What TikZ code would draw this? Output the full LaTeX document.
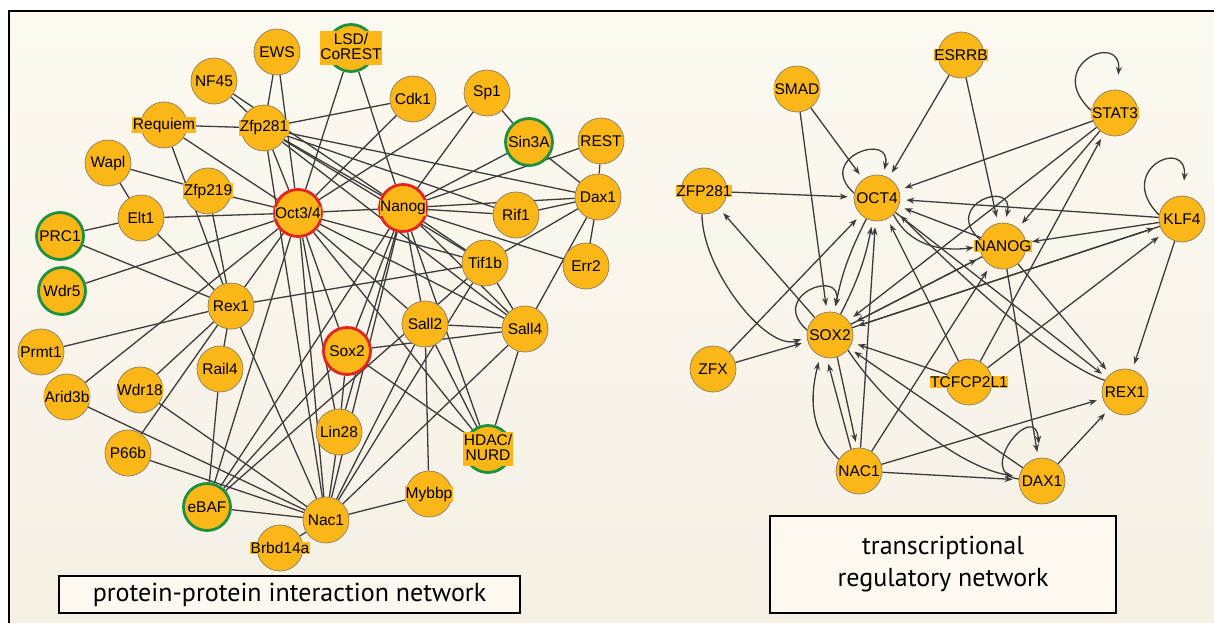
\documentclass[tikz,border=0pt]{standalone}
\usepackage{fontspec}
\setmainfont{Liberation Sans}
\newfontfamily\boxfont{PT Sans}
\usetikzlibrary{arrows.meta,calc}
\pgfdeclarelayer{bgl}\pgfdeclarelayer{edgel}
\pgfsetlayers{bgl,edgel,main}
\definecolor{nfill}{RGB}{251,182,23}
\definecolor{nbord}{RGB}{140,125,100}
\definecolor{redring}{RGB}{228,35,35}
\definecolor{greenring}{RGB}{30,145,65}
\definecolor{edgec}{RGB}{60,60,60}
\definecolor{creamtop}{RGB}{252,249,240}
\definecolor{creambot}{RGB}{245,240,228}
\definecolor{boxfill}{RGB}{253,249,240}
\newcommand{\nlab}[1]{\makebox[0pt]{\setlength{\fboxsep}{0.6pt}\colorbox{nfill}{#1}}}
\newcommand{\nlabb}[2]{\makebox[0pt]{\setlength{\fboxsep}{0.6pt}\colorbox{nfill}{\begin{tabular}{@{}c@{}}#1\\[-3pt]#2\end{tabular}}}}
\tikzset{
  pn/.style={circle, draw=nbord, line width=0.7pt, fill=nfill, minimum size=46pt, inner sep=0pt, font=\fontsize{15.5}{18}\selectfont},
  rn/.style={pn, draw=redring, line width=2.8pt, minimum size=47pt},
  gn/.style={pn, draw=greenring, line width=2.8pt, minimum size=47pt},
  ledge/.style={draw=edgec, line width=1.3pt},
  redge/.style={ledge, -{Stealth[length=8pt,width=6pt]}, shorten >=6pt},
  lbox/.style={draw=black, line width=2pt, fill=boxfill, font=\boxfont\fontsize{26}{32}\selectfont, inner sep=0pt}
}
\begin{document}
\begin{tikzpicture}[x=1pt,y=-1pt]
\useasboundingbox (0,0) rectangle (1214,623);
\begin{pgfonlayer}{bgl}
\fill[white] (0,0) rectangle (1214,623);
\shade[top color=creamtop, bottom color=creambot] (9,11) rectangle (1214,623);
\draw[black, line width=2.6pt] (9,630) -- (9,11) -- (1220,11);
\end{pgfonlayer}

% ---------- left network ----------
\node[pn] (ews) at (277,52) {\nlab{EWS}};
\node[pn] (nf45) at (214,81) {\nlab{NF45}};
\node[gn] (lsd) at (351,48) {\nlabb{LSD/}{CoREST}};
\node[pn] (cdk1) at (413,99) {\nlab{Cdk1}};
\node[pn] (sp1) at (487,93) {\nlab{Sp1}};
\node[pn] (req) at (164,125) {\nlab{Requiem}};
\node[pn] (zfpa) at (264,128) {\nlab{Zfp281}};
\node[gn] (sin3a) at (529,142) {\nlab{Sin3A}};
\node[pn] (rest) at (601,141) {\nlab{REST}};
\node[pn] (wapl) at (108,163) {\nlab{Wapl}};
\node[pn] (zfpb) at (208,191) {\nlab{Zfp219}};
\node[pn] (dax1) at (598,197) {\nlab{Dax1}};
\node[pn] (elt1) at (141,218) {\nlab{Elt1}};
\node[rn] (oct) at (298,213) {\nlab{Oct3/4}};
\node[rn] (nanog) at (403,208) {\nlab{Nanog}};
\node[pn] (rif1) at (516,215) {\nlab{Rif1}};
\node[gn] (prc1) at (60,236) {\nlab{PRC1}};
\node[pn] (tif1b) at (485,263) {\nlab{Tif1b}};
\node[pn] (err2) at (586,266) {\nlab{Err2}};
\node[gn] (wdr5) at (62,291) {\nlab{Wdr5}};
\node[pn] (rex1) at (231,306) {\nlab{Rex1}};
\node[pn] (sall2) at (425,324) {\nlab{Sall2}};
\node[pn] (sall4) at (525,329) {\nlab{Sall4}};
\node[rn] (sox2) at (347,351) {\nlab{Sox2}};
\node[pn] (prmt1) at (41,352) {\nlab{Prmt1}};
\node[pn] (rail4) at (220,369) {\nlab{Rail4}};
\node[pn] (wdr18) at (140,390) {\nlab{Wdr18}};
\node[pn] (arid3b) at (67,397) {\nlab{Arid3b}};
\node[pn] (lin28) at (339,432) {\nlab{Lin28}};
\node[gn] (hdac) at (488,449) {\nlabb{HDAC/}{NURD}};
\node[pn] (p66b) at (128,453) {\nlab{P66b}};
\node[pn] (mybbp) at (429,494) {\nlab{Mybbp}};
\node[gn] (ebaf) at (207,507) {\nlab{eBAF}};
\node[pn] (nac1) at (326,520) {\nlab{Nac1}};
\node[pn] (brbd) at (280,548) {\nlab{Brbd14a}};

\begin{pgfonlayer}{edgel}
\foreach \a/\b in {ews/zfpa, ews/oct, nf45/zfpa, nf45/nanog, lsd/oct, lsd/nanog,
  cdk1/zfpa, cdk1/oct, sp1/oct, sp1/nanog, sp1/sin3a, req/zfpa, req/oct, req/rex1,
  zfpa/oct, zfpa/nanog, zfpa/rif1, zfpa/dax1, zfpa/tif1b, zfpa/nac1, zfpa/sall4,
  wapl/zfpb, zfpb/oct, wapl/elt1, zfpb/rex1, elt1/prc1, elt1/oct, elt1/rex1,
  prc1/rex1, wdr5/oct, rex1/oct, rex1/tif1b, rex1/prmt1, rex1/wdr18, rex1/p66b,
  rex1/rail4, rex1/nac1, arid3b/oct, arid3b/nac1, wdr18/nac1, p66b/nac1,
  rail4/ebaf, ebaf/oct, ebaf/nanog, ebaf/sox2, ebaf/nac1, ebaf/tif1b, brbd/nac1,
  oct/nanog, oct/sox2, oct/nac1, oct/lin28, oct/sall4, oct/hdac, oct/tif1b, oct/sall2,
  nanog/rif1, nanog/dax1, nanog/sin3a, nanog/rest, nanog/err2, nanog/tif1b,
  nanog/sall4, nanog/sall2, nanog/hdac, nanog/sox2, nanog/lin28, nanog/nac1,
  rif1/dax1, dax1/rest, dax1/sin3a, dax1/err2, dax1/tif1b, dax1/sall4,
  tif1b/sall4, tif1b/nac1, sall2/sall4, sall2/mybbp, sall2/hdac, sall2/nac1,
  sall4/sox2, sall4/nac1, sall4/hdac, sox2/lin28, sox2/hdac, lin28/nac1, mybbp/nac1}
  \draw[ledge] (\a) -- (\b);
\end{pgfonlayer}

% ---------- right network ----------
\node[pn] (rsmad) at (797,89) {\nlab{SMAD}};
\node[pn] (resr) at (961,55) {\nlab{ESRRB}};
\node[pn] (rstat) at (1115,113) {\nlab{STAT3}};
\node[pn] (rzfp) at (704,191) {\nlab{ZFP281}};
\node[pn] (roct) at (877,198) {\nlab{OCT4}};
\node[pn] (rklf) at (1182,219) {\nlab{KLF4}};
\node[pn] (rnan) at (1003,246) {\nlab{NANOG}};
\node[pn] (rsox) at (830,335) {\nlab{SOX2}};
\node[pn] (rzfx) at (713,369) {\nlab{ZFX}};
\node[pn] (rtcf) at (969,382) {\nlab{TCFCP2L1}};
\node[pn] (rrex) at (1125,392) {\nlab{REX1}};
\node[pn] (rnac) at (859,471) {\nlab{NAC1}};
\node[pn] (rdax) at (1042,481) {\nlab{DAX1}};

\begin{pgfonlayer}{edgel}
\foreach \a/\b in {rsmad/roct, rsmad/rsox, resr/roct, resr/rnan, rzfp/roct, rsox/rzfp,
  rzfx/roct, rzfx/rsox, rstat/roct, rstat/rnan, rstat/rsox, rklf/roct, rklf/rnan,
  rklf/rsox, rklf/rrex, rtcf/rstat, rtcf/rklf, rtcf/roct, rtcf/rsox, rnan/roct,
  rnan/rsox, rsox/rnan, rnan/rdax, rnan/rrex, rnac/rnan, roct/rrex, rdax/rsox,
  rdax/rrex, rnac/rdax, rnac/rrex, rnac/roct, rsox/rklf}
  \draw[redge] (\a) -- (\b);
\draw[redge] (roct) to[bend right=8] (rsox);
\draw[redge] (rsox) to[bend right=8] (roct);
\draw[redge] (rnac.110) -- (rsox.262);
\draw[redge] (rsox.288) -- (rnac.95);
\draw[redge] (rnac.150) .. controls +(-30,-30) and +(-10,40) .. (rsox.245);
\draw[redge] (rzfp.265) .. controls +(0,55) and +(-40,15) .. (rsox.185);
\draw[redge] (roct.-45) .. controls +(15,30) and +(-40,5) .. (rnan.182);
\draw[redge] (rsox.-40) .. controls +(40,60) and +(-60,-10) .. (rdax.170);
\draw[redge] (rrex.150) .. controls +(-60,-20) and +(30,30) .. (roct.-35);
% self loops
\draw[redge] (roct.168) .. controls +(-40,-35) and +(10,-45) .. (roct.75);
\draw[redge] (rsox.168) .. controls +(-40,-35) and +(10,-45) .. (rsox.80);
\draw[redge] (rnan.165) .. controls +(-40,-35) and +(10,-45) .. (rnan.85);
\draw[redge, shorten >=15pt] (rstat.175) .. controls +(-50,-45) and +(5,-60) .. (rstat.85);
\draw[redge, shorten >=15pt] (rklf.170) .. controls +(-45,-45) and +(5,-60) .. (rklf.88);
\draw[redge, shorten >=14pt] (rdax.175) .. controls +(-45,-5) and +(-5,-60) .. (rdax.95);
\end{pgfonlayer}

% ---------- label boxes ----------
\node[lbox, minimum width=461pt, minimum height=37pt] (lboxl) at (289.5,594.5) {protein-protein interaction network};
\node[lbox, minimum width=346pt, minimum height=97pt, align=center] (lboxr) at (943,564.5) {transcriptional\\regulatory network};
\end{tikzpicture}
\end{document}
